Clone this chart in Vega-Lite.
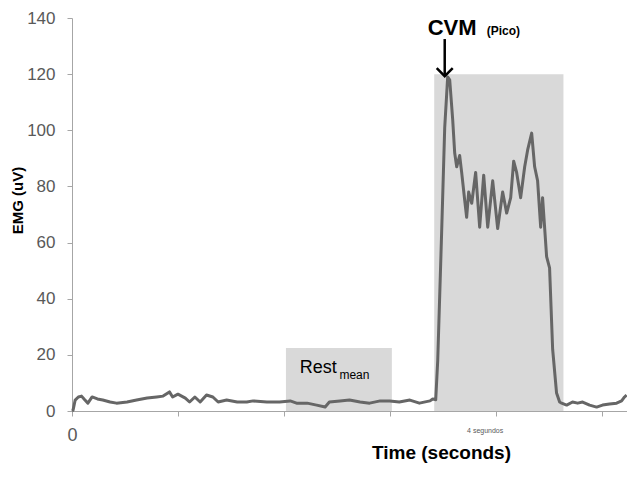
{
  "$schema": "https://vega.github.io/schema/vega-lite/v6.json",
  "width": 555,
  "height": 393,
  "autosize": {"type": "none"},
  "padding": {"left": 72, "top": 18, "right": 0, "bottom": 66},
  "background": "white",
  "config": {"view": {"stroke": null}, "font": "Liberation Sans"},
  "datasets": {
    "boxes": [
      {"t0": 2.02, "t1": 3.02, "v0": 0, "v1": 22.4},
      {"t0": 3.42, "t1": 4.64, "v0": 0, "v1": 120}
    ],
    "trace": [
      {"t": 0.0, "v": 0}, {"t": 0.01, "v": 0.3}, {"t": 0.03, "v": 3.9}, {"t": 0.06, "v": 5}, {"t": 0.09, "v": 5.3},
      {"t": 0.12, "v": 4}, {"t": 0.15, "v": 2.8}, {"t": 0.19, "v": 5}, {"t": 0.24, "v": 4.3}, {"t": 0.29, "v": 3.9},
      {"t": 0.36, "v": 3.2}, {"t": 0.42, "v": 2.8}, {"t": 0.52, "v": 3.2}, {"t": 0.61, "v": 3.9}, {"t": 0.71, "v": 4.6},
      {"t": 0.8, "v": 5}, {"t": 0.86, "v": 5.3}, {"t": 0.92, "v": 6.8}, {"t": 0.95, "v": 5}, {"t": 1.0, "v": 6},
      {"t": 1.07, "v": 4.6}, {"t": 1.11, "v": 3.2}, {"t": 1.16, "v": 5}, {"t": 1.21, "v": 3.2}, {"t": 1.27, "v": 5.7},
      {"t": 1.33, "v": 5}, {"t": 1.38, "v": 3.2}, {"t": 1.46, "v": 3.9}, {"t": 1.56, "v": 3.2}, {"t": 1.65, "v": 3.2},
      {"t": 1.71, "v": 3.6}, {"t": 1.84, "v": 3.2}, {"t": 1.96, "v": 3.2}, {"t": 2.06, "v": 3.6}, {"t": 2.12, "v": 2.8},
      {"t": 2.22, "v": 2.8}, {"t": 2.31, "v": 2.1}, {"t": 2.39, "v": 1.4}, {"t": 2.43, "v": 3.2}, {"t": 2.53, "v": 3.6},
      {"t": 2.62, "v": 3.9}, {"t": 2.72, "v": 3.2}, {"t": 2.81, "v": 2.8}, {"t": 2.91, "v": 3.6}, {"t": 3.0, "v": 3.6},
      {"t": 3.09, "v": 3.2}, {"t": 3.19, "v": 3.9}, {"t": 3.28, "v": 2.8}, {"t": 3.38, "v": 3.6}, {"t": 3.406, "v": 4.3},
      {"t": 3.434, "v": 4}, {"t": 3.453, "v": 18}, {"t": 3.491, "v": 65}, {"t": 3.519, "v": 101}, {"t": 3.547, "v": 119},
      {"t": 3.566, "v": 118}, {"t": 3.594, "v": 104}, {"t": 3.613, "v": 92}, {"t": 3.632, "v": 87}, {"t": 3.66, "v": 91},
      {"t": 3.679, "v": 85}, {"t": 3.708, "v": 75}, {"t": 3.726, "v": 69}, {"t": 3.745, "v": 78}, {"t": 3.774, "v": 74},
      {"t": 3.811, "v": 85}, {"t": 3.849, "v": 65.5}, {"t": 3.887, "v": 84}, {"t": 3.925, "v": 65.5}, {"t": 3.972, "v": 82},
      {"t": 4.019, "v": 65}, {"t": 4.066, "v": 78}, {"t": 4.104, "v": 70.5}, {"t": 4.142, "v": 76}, {"t": 4.17, "v": 89},
      {"t": 4.198, "v": 85}, {"t": 4.236, "v": 76}, {"t": 4.274, "v": 87}, {"t": 4.302, "v": 93}, {"t": 4.34, "v": 99},
      {"t": 4.368, "v": 87}, {"t": 4.396, "v": 82}, {"t": 4.425, "v": 65.5}, {"t": 4.443, "v": 76}, {"t": 4.481, "v": 55},
      {"t": 4.509, "v": 51}, {"t": 4.538, "v": 22}, {"t": 4.575, "v": 6.4}, {"t": 4.604, "v": 3.2}, {"t": 4.623, "v": 2.8},
      {"t": 4.67, "v": 2.1}, {"t": 4.726, "v": 3.2}, {"t": 4.774, "v": 2.8}, {"t": 4.821, "v": 3.2}, {"t": 4.887, "v": 2.1},
      {"t": 4.953, "v": 1.4}, {"t": 5.009, "v": 2.1}, {"t": 5.075, "v": 2.5}, {"t": 5.142, "v": 2.8}, {"t": 5.189, "v": 3.6},
      {"t": 5.217, "v": 5}, {"t": 5.236, "v": 5.7}
    ]
  },
  "layer": [
    {
      "data": {"name": "boxes"},
      "mark": {"type": "rect", "color": "#d9d9d9"},
      "encoding": {
        "x": {
          "field": "t0", "type": "quantitative", "title": "Time (seconds)",
          "scale": {"domain": [0, 5.24], "nice": false, "zero": false},
          "axis": {
            "values": [0, 1, 2, 3, 4, 5],
            "labelExpr": "datum.value == 0 ? '0' : datum.value == 4 ? '4 segundos' : ''",
            "labelFontSize": {"condition": {"test": "datum.value == 4", "value": 7}, "value": 18},
            "labelOffset": {"condition": {"test": "datum.value == 4", "value": -11}, "value": 0},
            "labelColor": "#595959",
            "labelPadding": 10,
            "labelFlush": false,
            "labelOverlap": false,
            "tickSize": 5,
            "tickColor": "#a6a6a6",
            "domainColor": "#a6a6a6",
            "grid": false,
            "titleFontSize": 19,
            "titleFontWeight": "bold",
            "titleColor": "black",
            "titleX": 369,
            "titleY": 47,
            "titleAlign": "center",
            "titleBaseline": "alphabetic"
          }
        },
        "x2": {"field": "t1"},
        "y": {
          "field": "v0", "type": "quantitative", "title": "EMG (uV)",
          "scale": {"domain": [0, 140], "nice": false},
          "axis": {
            "values": [0, 20, 40, 60, 80, 100, 120, 140],
            "labelFontSize": 17,
            "labelColor": "#595959",
            "labelPadding": 12,
            "tickSize": 5,
            "tickColor": "#a6a6a6",
            "domainColor": "#a6a6a6",
            "grid": false,
            "titleFontSize": 15,
            "titleFontWeight": "bold",
            "titleColor": "black",
            "titleX": -55,
            "titleY": 182,
            "titleAlign": "center",
            "titleBaseline": "middle"
          }
        },
        "y2": {"field": "v1"}
      }
    },
    {
      "data": {"name": "trace"},
      "mark": {"type": "line", "color": "#666666", "strokeWidth": 3, "strokeJoin": "round"},
      "encoding": {
        "x": {"field": "t", "type": "quantitative", "title": "Time (seconds)"},
        "y": {"field": "v", "type": "quantitative", "title": "EMG (uV)"}
      }
    },
    {
      "data": {"values": [{"t": 2.151, "v": 13.5, "label": "Rest"}]},
      "mark": {"type": "text", "align": "left", "baseline": "alphabetic", "fontSize": 18, "color": "black"},
      "encoding": {
        "x": {"field": "t", "type": "quantitative", "title": "Time (seconds)"},
        "y": {"field": "v", "type": "quantitative", "title": "EMG (uV)"},
        "text": {"field": "label"}
      }
    },
    {
      "data": {"values": [{"t": 2.525, "v": 11.4, "label": "mean"}]},
      "mark": {"type": "text", "align": "left", "baseline": "alphabetic", "fontSize": 12, "color": "black"},
      "encoding": {
        "x": {"field": "t", "type": "quantitative", "title": "Time (seconds)"},
        "y": {"field": "v", "type": "quantitative", "title": "EMG (uV)"},
        "text": {"field": "label"}
      }
    },
    {
      "data": {"values": [{"t": 3.358, "v": 134, "label": "CVM"}]},
      "mark": {"type": "text", "align": "left", "baseline": "alphabetic", "fontSize": 22, "fontWeight": "bold", "color": "black"},
      "encoding": {
        "x": {"field": "t", "type": "quantitative", "title": "Time (seconds)"},
        "y": {"field": "v", "type": "quantitative", "title": "EMG (uV)"},
        "text": {"field": "label"}
      }
    },
    {
      "data": {"values": [{"t": 3.915, "v": 134, "label": "(Pico)"}]},
      "mark": {"type": "text", "align": "left", "baseline": "alphabetic", "fontSize": 12, "fontWeight": "bold", "color": "black"},
      "encoding": {
        "x": {"field": "t", "type": "quantitative", "title": "Time (seconds)"},
        "y": {"field": "v", "type": "quantitative", "title": "EMG (uV)"},
        "text": {"field": "label"}
      }
    },
    {
      "data": {"values": [{"t": 3.519, "v": 132.5, "v2": 119.5}]},
      "mark": {"type": "rule", "color": "black", "strokeWidth": 2.5},
      "encoding": {
        "x": {"field": "t", "type": "quantitative", "title": "Time (seconds)"},
        "y": {"field": "v", "type": "quantitative", "title": "EMG (uV)"},
        "y2": {"field": "v2"}
      }
    },
    {
      "data": {"values": [{"t": 3.519, "v": 119.3}]},
      "mark": {"type": "point", "shape": "M-1,-1L0,0L1,-1", "filled": false, "size": 256, "stroke": "black", "strokeWidth": 2.5, "opacity": 1},
      "encoding": {
        "x": {"field": "t", "type": "quantitative", "title": "Time (seconds)"},
        "y": {"field": "v", "type": "quantitative", "title": "EMG (uV)"}
      }
    }
  ]
}
